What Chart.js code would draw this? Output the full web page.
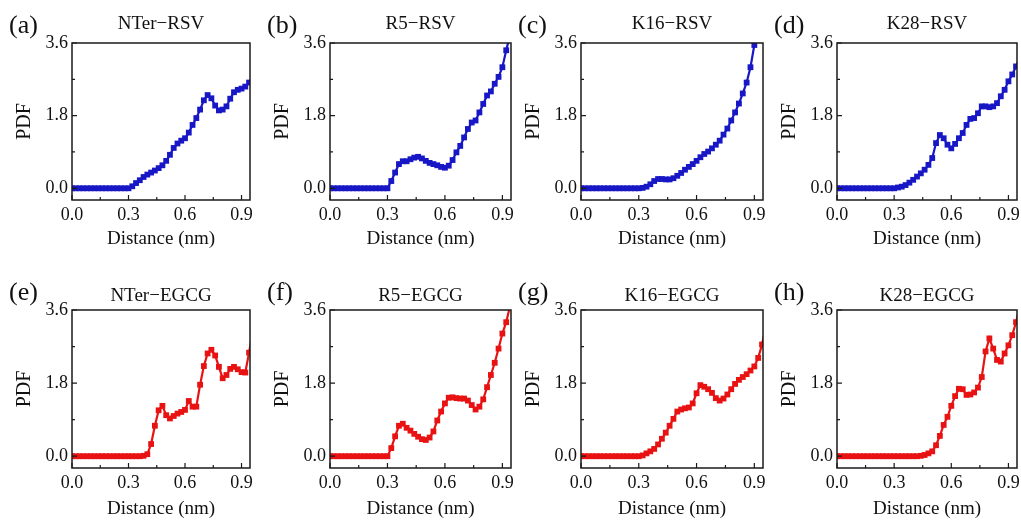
<!DOCTYPE html>
<html>
<head>
<meta charset="utf-8">
<title>PDF vs distance</title>
<script src="https://cdn.jsdelivr.net/npm/chart.js@4.4.1/dist/chart.umd.min.js"></script>
<style>
  html, body { margin: 0; padding: 0; background: #fff; }
  body { position: relative; width: 1021px; height: 522px; overflow: hidden; }
  .panel { position: absolute; }
</style>
</head>
<body>
<script>
// sampled distances (nm)
const distance = [
  0.00, 0.02, 0.04, 0.06, 0.08, 0.10, 0.12, 0.14, 0.16, 0.18,
  0.20, 0.22, 0.24, 0.26, 0.28, 0.30, 0.32, 0.34, 0.36, 0.38,
  0.40, 0.42, 0.44, 0.46, 0.48, 0.50, 0.52, 0.54, 0.56, 0.58,
  0.60, 0.62, 0.64, 0.66, 0.68, 0.70, 0.72, 0.74, 0.76, 0.78,
  0.80, 0.82, 0.84, 0.86, 0.88, 0.90, 0.92, 0.94, 0.96
]

const xTicks = [0, 0.3, 0.6, 0.9]
const xMinorTicks = [0.15, 0.45, 0.75]
const yTicks = [0, 1.8, 3.6]
const yMinorTicks = [0.9, 2.7]

// PDF values, resveratrol
const nterRsv = [
  0, 0, 0, 0, 0, 0, 0, 0, 0, 0, 0, 0, 0, 0, 0, 0,
  0.05, 0.13, 0.2, 0.28, 0.34, 0.39, 0.44, 0.5, 0.57, 0.68,
  0.83, 1.0, 1.11, 1.18, 1.24, 1.38, 1.57, 1.74, 1.95, 2.18,
  2.31, 2.23, 2.05, 1.93, 1.95, 2.03, 2.22, 2.38, 2.44, 2.47,
  2.52, 2.62, 2.7
]
const r5Rsv = [
  0, 0, 0, 0, 0, 0, 0, 0, 0, 0, 0, 0, 0, 0, 0, 0,
  0.18, 0.39, 0.6, 0.67, 0.67, 0.72, 0.76, 0.78, 0.74, 0.68,
  0.63, 0.6, 0.57, 0.53, 0.51, 0.56, 0.7, 0.89, 1.05, 1.26,
  1.47, 1.63, 1.68, 1.88, 2.09, 2.3, 2.4, 2.59, 2.76, 3.0,
  3.42, 3.8
]
const k16Rsv = [
  0, 0, 0, 0, 0, 0, 0, 0, 0, 0, 0, 0, 0, 0, 0, 0,
  0.01, 0.04, 0.1, 0.18, 0.23, 0.23, 0.22, 0.22, 0.25, 0.31,
  0.38, 0.46, 0.53, 0.6, 0.68, 0.77, 0.85, 0.91, 0.99, 1.08,
  1.18, 1.33, 1.48, 1.68, 1.88, 2.1, 2.35, 2.62, 3.0, 3.55,
  4.2
]
const k28Rsv = [
  0, 0, 0, 0, 0, 0, 0, 0, 0, 0, 0, 0, 0, 0, 0, 0,
  0.02, 0.04, 0.08, 0.14, 0.21, 0.29, 0.37, 0.46, 0.58, 0.75,
  1.12, 1.32, 1.24, 1.08, 0.99, 1.1, 1.24, 1.37, 1.57, 1.72,
  1.74, 1.86, 2.03, 2.03, 2.01, 2.03, 2.11, 2.28, 2.44, 2.65,
  2.82, 3.02, 3.25
]

// PDF values, EGCG
const nterEgcg = [
  0, 0, 0, 0, 0, 0, 0, 0, 0, 0, 0, 0, 0, 0, 0, 0, 0, 0, 0,
  0.01, 0.05, 0.3, 0.75, 1.13, 1.24, 1.01, 0.93, 0.99, 1.05,
  1.09, 1.14, 1.36, 1.22, 1.22, 1.76, 2.22, 2.53, 2.62, 2.48,
  2.2, 1.92, 2.0, 2.15, 2.2, 2.14, 2.07, 2.06, 2.55, 3.1
]
const r5Egcg = [
  0, 0, 0, 0, 0, 0, 0, 0, 0, 0, 0, 0, 0, 0, 0, 0,
  0.2, 0.49, 0.75, 0.8, 0.7, 0.63, 0.55, 0.48, 0.42, 0.4,
  0.46, 0.61, 0.88, 1.1, 1.3, 1.44, 1.45, 1.43, 1.42, 1.42,
  1.37, 1.26, 1.15, 1.22, 1.4, 1.7, 2.0, 2.3, 2.65, 3.02,
  3.3, 3.7
]
const k16Egcg = [
  0, 0, 0, 0, 0, 0, 0, 0, 0, 0, 0, 0, 0, 0, 0, 0,
  0.02, 0.07, 0.12, 0.18, 0.29, 0.43, 0.58, 0.75, 0.92, 1.1,
  1.15, 1.18, 1.2, 1.3, 1.55, 1.75, 1.71, 1.65, 1.56, 1.43,
  1.37, 1.42, 1.52, 1.65, 1.78, 1.88, 1.95, 2.02, 2.11, 2.21,
  2.42, 2.75, 3.2
]
const k28Egcg = [
  0, 0, 0, 0, 0, 0, 0, 0, 0, 0, 0, 0, 0, 0, 0, 0, 0, 0, 0, 0, 0, 0,
  0.01, 0.03, 0.07, 0.12, 0.27, 0.5, 0.77, 0.97, 1.24, 1.48,
  1.66, 1.65, 1.51, 1.52, 1.57, 1.69, 1.95, 2.58, 2.9, 2.65,
  2.37, 2.33, 2.53, 2.73, 2.98, 3.3, 3.7
]

const BLUE = '#1717c6'
const RED = '#e81212'
const SERIF = "'Liberation Serif', 'Times New Roman', serif"

// plot-box edges in page pixels
const columns = [[72, 250], [330, 511], [581, 763], [837, 1017]]
const rows = [
  { top: 43, bottom: 200, titleGap: 19, xTitlePad: 10 },
  { top: 310, bottom: 468, titleGap: 14, xTitlePad: 8 }
]

const panels = [
  { letter: '(a)', title: 'NTer\u2212RSV', values: nterRsv, color: BLUE, col: 0, row: 0 },
  { letter: '(b)', title: 'R5\u2212RSV', values: r5Rsv, color: BLUE, col: 1, row: 0 },
  { letter: '(c)', title: 'K16\u2212RSV', values: k16Rsv, color: BLUE, col: 2, row: 0 },
  { letter: '(d)', title: 'K28\u2212RSV', values: k28Rsv, color: BLUE, col: 3, row: 0 },
  { letter: '(e)', title: 'NTer\u2212EGCG', values: nterEgcg, color: RED, col: 0, row: 1 },
  { letter: '(f)', title: 'R5\u2212EGCG', values: r5Egcg, color: RED, col: 1, row: 1 },
  { letter: '(g)', title: 'K16\u2212EGCG', values: k16Egcg, color: RED, col: 2, row: 1 },
  { letter: '(h)', title: 'K28\u2212EGCG', values: k28Egcg, color: RED, col: 3, row: 1 }
]

const Y_AXIS_W = 72
const X_AXIS_H = 60
const TITLE_H = 43
const RIGHT_PAD = 12

// closed frame with inward major/minor ticks on bottom and left
const axisFrame = {
  id: 'axisFrame',
  afterDraw(chart) {
    const { ctx, chartArea: a, scales: { x, y } } = chart
    ctx.save()
    ctx.strokeStyle = '#1a1a1a'
    ctx.lineWidth = 1.5
    ctx.strokeRect(a.left, a.top, a.right - a.left, a.bottom - a.top)
    ctx.lineWidth = 1.2
    ctx.beginPath()
    xTicks.forEach(v => {
      const px = x.getPixelForValue(v)
      ctx.moveTo(px, a.bottom); ctx.lineTo(px, a.bottom - 5)
    })
    xMinorTicks.forEach(v => {
      const px = x.getPixelForValue(v)
      ctx.moveTo(px, a.bottom); ctx.lineTo(px, a.bottom - 3)
    })
    yTicks.forEach(v => {
      const py = y.getPixelForValue(v)
      ctx.moveTo(a.left, py); ctx.lineTo(a.left + 5, py)
    })
    yMinorTicks.forEach(v => {
      const py = y.getPixelForValue(v)
      ctx.moveTo(a.left, py); ctx.lineTo(a.left + 3, py)
    })
    ctx.stroke()
    ctx.restore()
  }
}

// "(a)", "(b)" ... at the upper left of each panel
const panelLetter = {
  id: 'panelLetter',
  afterDraw(chart, args, opts) {
    const { ctx, chartArea: a } = chart
    ctx.save()
    ctx.font = '26px ' + SERIF
    ctx.fillStyle = '#111'
    ctx.textAlign = 'left'
    ctx.textBaseline = 'middle'
    ctx.fillText(opts.text, a.left - 63, a.top - 17)
    ctx.restore()
  }
}

function initPanel(p) {
  const [left, right] = columns[p.col]
  const row = rows[p.row]
  const width = (right - left) + Y_AXIS_W + RIGHT_PAD
  const height = (row.bottom - row.top) + TITLE_H + X_AXIS_H

  const box = document.createElement('div')
  box.className = 'panel'
  box.style.left = (left - Y_AXIS_W) + 'px'
  box.style.top = (row.top - TITLE_H) + 'px'
  const canvas = document.createElement('canvas')
  canvas.width = width
  canvas.height = height
  canvas.style.width = width + 'px'
  canvas.style.height = height + 'px'
  box.appendChild(canvas)
  document.body.appendChild(box)

  const points = p.values.map((v, i) => ({ x: distance[i], y: v }))
  const titleTop = TITLE_H - row.titleGap - 11.4

  new Chart(canvas, {
    type: 'line',
    data: {
      datasets: [{
        data: points,
        borderColor: p.color,
        backgroundColor: p.color,
        borderWidth: 2.2,
        tension: 0,
        pointStyle: 'rect',
        pointRadius: 4.1,
        pointBorderWidth: 0,
        pointBackgroundColor: p.color
      }]
    },
    options: {
      responsive: false,
      animation: false,
      devicePixelRatio: 1,
      layout: { padding: { top: 0, right: RIGHT_PAD, bottom: 0, left: 0 } },
      plugins: {
        legend: { display: false },
        tooltip: { enabled: false },
        title: {
          display: true,
          text: p.title,
          fullSize: false,
          color: '#111',
          font: { family: SERIF, size: 19, weight: 'normal', lineHeight: 1.2 },
          padding: { top: titleTop, bottom: TITLE_H - 22.8 - titleTop }
        },
        panelLetter: { text: p.letter }
      },
      scales: {
        x: {
          type: 'linear',
          min: 0,
          max: 0.945,
          grid: { display: false, drawTicks: false },
          border: { display: false },
          afterBuildTicks: scale => { scale.ticks = xTicks.map(v => ({ value: v })) },
          afterFit: scale => { scale.height = X_AXIS_H },
          ticks: {
            callback: value => value.toFixed(1),
            color: '#111',
            font: { family: SERIF, size: 18 },
            padding: 4,
            maxRotation: 0,
            autoSkip: false
          },
          title: {
            display: true,
            text: 'Distance (nm)',
            color: '#111',
            font: { family: SERIF, size: 19, lineHeight: 1.2 },
            padding: { top: 0, bottom: row.xTitlePad }
          }
        },
        y: {
          min: -0.29,
          max: 3.6,
          grid: { display: false, drawTicks: false },
          border: { display: false },
          afterBuildTicks: scale => { scale.ticks = yTicks.map(v => ({ value: v })) },
          afterFit: scale => { scale.width = Y_AXIS_W },
          ticks: {
            callback: value => value.toFixed(1),
            color: '#111',
            font: { family: SERIF, size: 18 },
            padding: 4,
            autoSkip: false
          },
          title: {
            display: true,
            text: 'PDF',
            color: '#111',
            font: { family: SERIF, size: 20, lineHeight: 1.2 },
            padding: { top: 13, bottom: 0 }
          }
        }
      }
    },
    plugins: [axisFrame, panelLetter]
  })
}

panels.forEach(initPanel)
</script>
</body>
</html>
